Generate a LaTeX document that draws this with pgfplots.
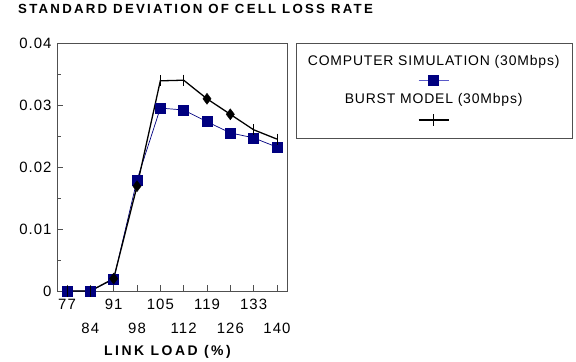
\documentclass[border=0pt]{standalone}
\usepackage{pgfplots}
\pgfplotsset{compat=1.18}
\usepackage{fontspec}
\setmainfont{Liberation Sans}
\newfontfamily\spaced[LetterSpace=6]{Liberation Sans}
\newfontfamily\tickfont[LetterSpace=7]{Liberation Sans}
\newfontfamily\titlefont[LetterSpace=17]{Liberation Sans}
\newfontfamily\labelfont[LetterSpace=18]{Liberation Sans}
\definecolor{navy}{RGB}{0,0,128}
\definecolor{legblue}{RGB}{90,90,200}
\definecolor{axgray}{RGB}{80,80,80}
\pgfplotstableread{
x y
77 0
84 0
91 0.0019
98 0.0179
105 0.0295
112 0.0292
119 0.0273
126 0.0255
133 0.0247
140 0.0232
}\simdata
\pgfplotstableread{
x y
77 0
84 0
91 0.0020
98 0.0169
105 0.0339
112 0.0340
119 0.0310
126 0.0285
133 0.0260
140 0.0245
}\burstdata
\pgfplotstableread{
x y
77 0
84 0
105 0.0339
112 0.0340
133 0.0260
140 0.0245
}\bursttick
\pgfplotstableread{
x y
91 0.0020
98 0.0169
119 0.0310
126 0.0285
}\burstdiam
\begin{document}
\begin{tikzpicture}
\begin{axis}[
  scale only axis, width=230bp, height=248bp,
  xmin=74, xmax=143, ymin=0, ymax=0.04,
  axis line style={axgray, line width=0.8pt},
  every tick/.style={axgray, line width=0.8pt},
  tick align=inside, xtick pos=bottom, ytick pos=left,
  major tick length=6bp, minor tick length=3.5bp,
  xtick={77,84,91,98,105,112,119,126,133,140},
  xticklabels={77,{\vphantom{0}\\84},91,{\vphantom{0}\\98},105,{\vphantom{0}\\112},119,{\vphantom{0}\\126},133,{\vphantom{0}\\140}},
  xticklabel style={align=center, font=\tickfont\fontsize{15}{24}\selectfont, yshift=-4.5bp},
  ytick={0,0.01,0.02,0.03,0.04},
  minor y tick num=1,
  yticklabel style={font=\tickfont\fontsize{15}{17}\selectfont, /pgf/number format/fixed, /pgf/number format/precision=2, xshift=-2bp},
  /pgf/number format/assume math mode=true,
  scaled y ticks=false,
  title={STANDARD DEVIATION OF CELL LOSS RATE},
  title style={at={(axis description cs:-0.1696,1.1129)}, anchor=west, font=\titlefont\bfseries\fontsize{13.3}{15}\selectfont, inner sep=0pt},
  xlabel={LINK LOAD (\%)},
  xlabel style={at={(axis description cs:0.4804,-0.246)}, anchor=center, font=\labelfont\bfseries\fontsize{14}{15}\selectfont, inner sep=0pt},
  legend columns=1,
  legend style={at={(axis description cs:1.039,1)}, anchor=north west,
    draw=axgray, line width=0.8pt, inner xsep=11.5bp, inner ysep=12bp,
    row sep=8bp, column sep=0pt, nodes={inner sep=0pt},
    font=\spaced\fontsize{14}{16}\selectfont},
]
\addplot[navy, line width=0.7pt, mark=square*, mark size=5bp, mark options={fill=navy, draw=navy}, forget plot] table[x=x,y=y] {\simdata};
\addplot[black, line width=1.3pt, no marks, forget plot] table[x=x,y=y] {\burstdata};
\addplot[black, only marks, mark=|, mark size=5.5bp, mark options={line width=1pt}, forget plot] table[x=x,y=y] {\bursttick};
\addplot[black, only marks, mark=diamond*, mark size=5.5bp, forget plot] table[x=x,y=y] {\burstdiam};
\addlegendimage{legend image code/.code={\node[text=black, inner sep=0pt] at (0,0) {COMPUTER SIMULATION (30Mbps)};}}
\addlegendentry{\mbox{}}
\addlegendimage{legend image code/.code={\draw[legblue, line width=1pt] (-15bp,0) -- (15bp,0); \fill[navy] (-5bp,-5bp) rectangle (5bp,5bp);}}
\addlegendentry{\mbox{}}
\addlegendimage{legend image code/.code={\node[text=black, inner sep=0pt] at (0,0) {BURST MODEL (30Mbps)};}}
\addlegendentry{\mbox{}}
\addlegendimage{legend image code/.code={\draw[black, line width=1.3pt] (-15bp,0) -- (15bp,0); \draw[black, line width=1pt] (0,-6bp) -- (0,6bp);}}
\addlegendentry{\mbox{}}
\end{axis}
\pgfresetboundingbox
\path (-57bp,-71bp) rectangle (519bp,291bp);
\end{tikzpicture}
\end{document}
